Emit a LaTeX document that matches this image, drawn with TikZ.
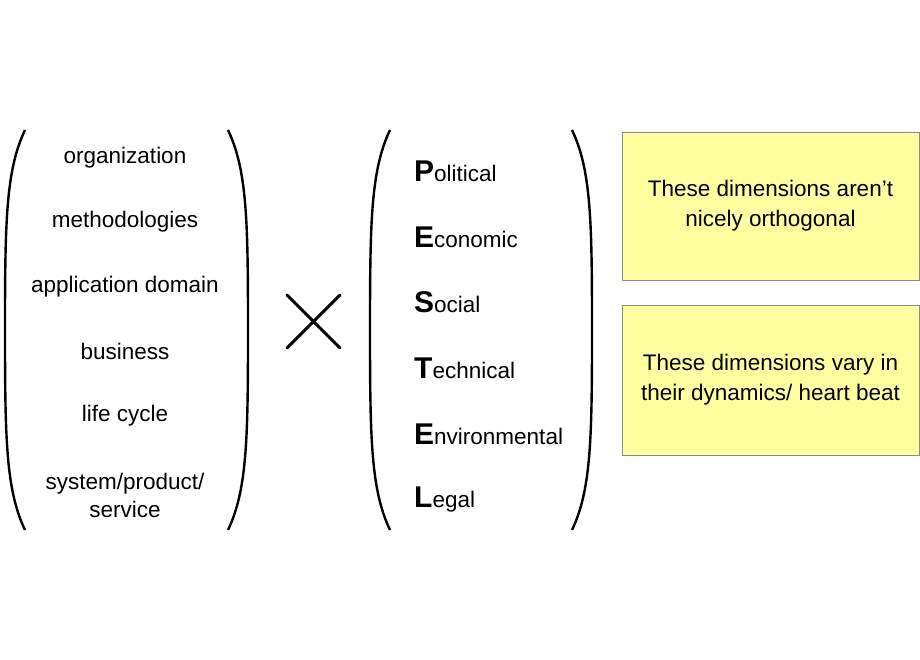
\documentclass[tikz,border=0pt]{standalone}
\usepackage{fontspec}
\setmainfont{Liberation Sans}
\begin{document}
\begin{tikzpicture}[x=1pt,y=-1pt]
			\tikzstyle{item}=[font=\fontsize{22.5}{28}\selectfont, align=center]
			\tikzstyle{pestel}=[font=\fontsize{22.5}{28}\selectfont, anchor=west, inner sep=0pt]
			\tikzstyle{note}=[draw=black!45, fill={rgb,255:red,255;green,255;blue,160}, font=\fontsize{22.5}{30}\selectfont, align=center]
			\tikzstyle{paren}=[line width=2.4pt]
			\def\capl#1{{\fontsize{30}{30}\selectfont\bfseries #1}}
			
			% Fix the canvas
			\useasboundingbox (0,0) rectangle (920,660);
			
			% Left bracket pair
			\draw[paren] (25,130) .. controls (6,170) and (5,220) .. (5,330) .. controls (5,440) and (6,490) .. (25,530);
			\draw[paren] (228,130) .. controls (247,170) and (248,220) .. (248,330) .. controls (248,440) and (247,490) .. (228,530);
			
			% Left items
			\foreach \name / \y / \txt in {org/158/organization, meth/222/methodologies,
				app/287/application domain, bus/351/business, life/416/life cycle}
			\node[item] (\name) at (125,\y) {\txt};
			\node[item] (sys) at (125,495) {system/product/\\service};
			
			% The cross
			\coordinate (c1) at (287,295);
			\coordinate (c2) at (340,348);
			\coordinate (c3) at (287,348);
			\coordinate (c4) at (340,295);
			\draw[line width=3pt, line cap=round] (c1) -- (c2);
			\draw[line width=3pt, line cap=round] (c3) -- (c4);
			
			% Right bracket pair
			\draw[paren] (390,130) .. controls (371,170) and (370,220) .. (370,330) .. controls (370,440) and (371,490) .. (390,530);
			\draw[paren] (572,130) .. controls (591,170) and (592,220) .. (592,330) .. controls (592,440) and (591,490) .. (572,530);
			
			% PESTEL items
			\foreach \name / \y / \a / \rest in {P/171/P/olitical, E/237/E/conomic,
				S/302/S/ocial, T/368/T/echnical, En/434/E/nvironmental, L/500/L/egal}
			\node[pestel] (\name) at (414,\y) {\capl{\a}\rest};
			
			% Notes
			\node[note, minimum width=297pt, minimum height=148pt] (n1) at (770.5,206) {These dimensions aren't\\nicely orthogonal};
			\node[note, minimum width=297pt, minimum height=150pt] (n2) at (770.5,380) {These dimensions vary in\\their dynamics/ heart beat};
\end{tikzpicture}
\end{document}
